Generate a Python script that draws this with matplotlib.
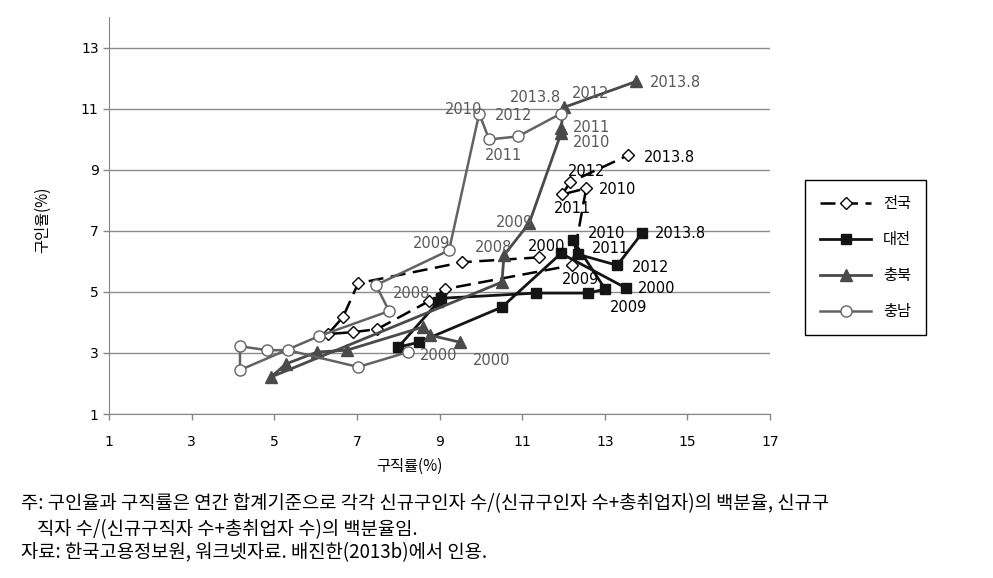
import matplotlib
matplotlib.use("Agg")
import matplotlib.pyplot as plt

KR = ["Noto Sans CJK KR", "DejaVu Sans"]
NUM = ["DejaVu Sans"]

# data: x = 구직률(%), y = 구인율(%), one point per year
years = ["2000", "2001", "2002", "2003", "2004", "2005", "2006",
         "2007", "2008", "2009", "2010", "2011", "2012", "2013.8"]

nat_x = [11.41, 9.55, 7.03, 6.66, 6.30, 6.91, 7.49, 8.75, 9.13, 12.21, 12.55, 11.97, 12.16, 13.56]
nat_y = [6.13, 5.97, 5.28, 4.17, 3.62, 3.68, 3.78, 4.70, 5.09, 5.87, 8.39, 8.19, 8.59, 9.47]

dj_x = [13.52, 11.94, 10.51, 8.50, 8.00, 8.96, 9.04, 11.34, 12.60, 13.01, 12.23, 12.35, 13.30, 13.90]
dj_y = [5.12, 6.26, 4.50, 3.35, 3.19, 4.66, 4.79, 4.96, 4.96, 5.09, 6.69, 6.23, 5.87, 6.92]

cb_x = [9.50, 8.77, 8.60, 6.76, 6.04, 5.28, 4.92, 10.51, 10.56, 11.17, 11.94, 11.94, 12.01, 13.76]
cb_y = [3.35, 3.58, 3.85, 3.09, 3.03, 2.64, 2.21, 5.32, 6.20, 7.25, 10.19, 10.35, 11.04, 11.89]

cn_x = [8.24, 7.03, 5.33, 4.82, 4.17, 4.17, 6.08, 7.78, 7.46, 9.23, 9.96, 10.20, 10.90, 11.94]
cn_y = [3.03, 2.54, 3.09, 3.09, 3.22, 2.44, 3.55, 4.37, 5.22, 6.36, 10.84, 9.99, 10.09, 10.84]

# which years get a label, with pixel offset of the text
nat_labels = [(0, -11, 11), (9, -10, -14), (10, 13, -1), (11, -8, -14), (12, -2, 11), (13, 16, -2)]
dj_labels = [(0, 12, 0), (9, 5, -18), (10, 15, 7), (11, 14, 6), (12, 15, -2), (13, 13, 0)]
cb_labels = [(0, 13, -18), (8, -29, 8), (9, -33, 1), (10, 12, -9), (11, 12, 1), (12, 8, 14), (13, 14, -1)]
cn_labels = [(0, 12, -3), (8, 17, -8), (9, -36, 7), (10, -34, 4), (11, -4, -16), (12, -23, 21), (13, -51, 16)]

fig = plt.figure(figsize=(9.93, 5.78), dpi=100)
ax = fig.add_axes([0.1098, 0.2837, 0.6657, 0.6869])

ax.plot(nat_x, nat_y, color="black", lw=1.8, ls=(0, (6, 3)), marker="D", ms=6,
        mfc="white", mec="black", mew=1, label="전국")
ax.plot(dj_x, dj_y, color="#141414", lw=2, marker="s", ms=6.5, mfc="#141414",
        mec="#141414", label="대전")
ax.plot(cb_x, cb_y, color="#4a4a4a", lw=2, marker="^", ms=8, mfc="#4a4a4a",
        mec="#4a4a4a", label="충북")
ax.plot(cn_x, cn_y, color="#636363", lw=1.8, marker="o", ms=8, mfc="white",
        mec="#636363", mew=1, label="충남")


def put_labels(xs, ys, labs, col):
    for i, dx, dy in labs:
        ax.annotate(years[i], (xs[i], ys[i]), xytext=(dx, dy), textcoords="offset pixels",
                    ha="left", va="center", fontsize=10.5, color=col, family=NUM)


put_labels(nat_x, nat_y, nat_labels, "black")
put_labels(dj_x, dj_y, dj_labels, "black")
put_labels(cb_x, cb_y, cb_labels, "#595959")
put_labels(cn_x, cn_y, cn_labels, "#595959")

ax.set_xlim(1, 17)
ax.set_ylim(1, 14)
ax.set_xticks(range(1, 18, 2))
ax.set_yticks(range(1, 14, 2))
ax.tick_params(labelsize=10, length=4, color="#868686", width=1)
ax.tick_params(axis="x", pad=11)
for t in ax.get_xticklabels() + ax.get_yticklabels():
    t.set_family(NUM)
ax.grid(axis="y", color="#8c8c8c", lw=1)
ax.set_axisbelow(True)
for s in ["top", "right"]:
    ax.spines[s].set_visible(False)
for s in ["left", "bottom"]:
    ax.spines[s].set_color("#868686")

ax.set_xlabel("구직률(%)", family=KR, fontsize=11)
ax.xaxis.set_label_coords(0.455, -0.11)
ax.set_ylabel("구인율(%)", family=KR, fontsize=11)
ax.yaxis.set_label_coords(-0.088, 0.49)

leg = ax.legend(loc="center left", bbox_to_anchor=(0.803, 0.5545), bbox_transform=fig.transFigure,
                prop={"family": KR, "size": 11}, handlelength=3.3, labelspacing=1.25,
                borderpad=1.0, fancybox=False, edgecolor="black", framealpha=1)
leg.get_frame().set_linewidth(1)

fig.text(0.021, 0.128, "주: 구인율과 구직률은 연간 합계기준으로 각각 신규구인자 수/(신규구인자 수+총취업자)의 백분율, 신규구",
         family=KR, fontsize=13.5, va="center")
fig.text(0.037, 0.084, "직자 수/(신규구직자 수+총취업자 수)의 백분율임.",
         family=KR, fontsize=13.5, va="center")
fig.text(0.021, 0.044, "자료: 한국고용정보원, 워크넷자료. 배진한(2013b)에서 인용.",
         family=KR, fontsize=13.5, va="center")

fig.savefig("out.png", dpi=100)
